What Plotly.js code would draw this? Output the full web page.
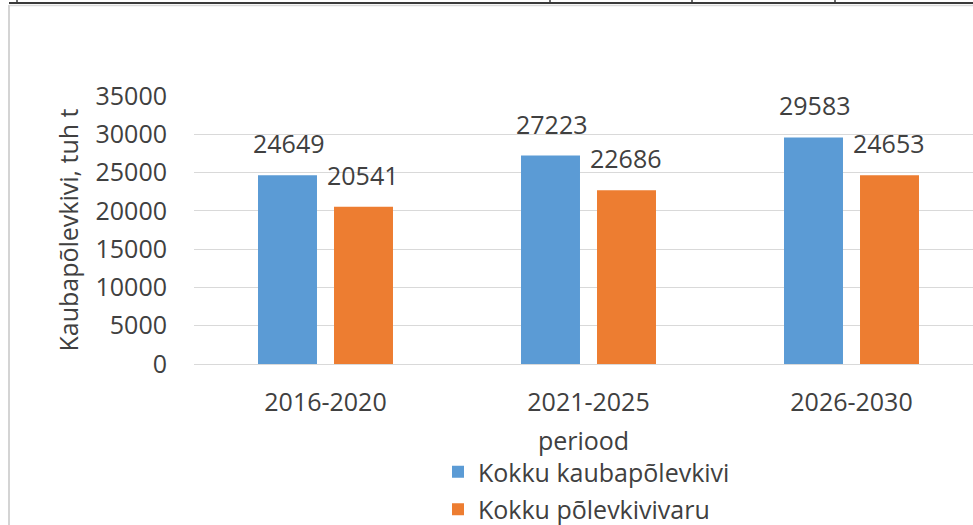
<!DOCTYPE html>
<html>
<head>
<meta charset="utf-8">
<script src="https://cdn.plot.ly/plotly-3.0.1.min.js"></script>
<style>html,body{margin:0;padding:0;background:#fff;}#chart{width:973px;height:525px;}</style>
</head>
<body>
<div id="chart"></div>
<script>
const categories = ["2016-2020", "2021-2025", "2026-2030"];
const seriesNames = ["Kokku kaubapõlevkivi", "Kokku põlevkivivaru"];
const kaubapolevkivi = [24649, 27223, 29583];
const polevkivivaru = [20541, 22686, 24653];
const yTickValues = [0, 5000, 10000, 15000, 20000, 25000, 30000, 35000];
const yTitle = "Kaubapõlevkivi, tuh t";
const xTitle = "periood";

const W = 973, H = 525;
const L = 194, R = 0, T = 96, B = 161;
const pw = W - L - R, ph = H - T - B;
const px2x = p => (p - L) / pw;
const py2y = p => (H - B - p) / ph;

const FONT = "Open Sans, sans-serif";
const TXT = "#404040";
const colors = ["#5B9BD5", "#ED7D31"];

const traces = [
  {type: "bar", name: seriesNames[0], x: categories, y: kaubapolevkivi,
   marker: {color: colors[0], line: {width: 0}}, legendgroup: "a", hoverinfo: "none"},
  {type: "bar", name: seriesNames[1], x: categories, y: polevkivivaru,
   marker: {color: colors[1], line: {width: 0}}, legendgroup: "b", hoverinfo: "none"}
];

const annotations = [];
[kaubapolevkivi, polevkivivaru].forEach((vals, si) => {
  vals.forEach((v, i) => {
    annotations.push({
      x: categories[i], y: v, xref: "x", yref: "y",
      text: String(v), showarrow: false,
      xanchor: "center", yanchor: "bottom",
      xshift: si === 0 ? -37 : 37, yshift: 13,
      font: {family: FONT, size: 25, color: TXT}
    });
  });
});

const line = (x0, y0, x1, y1, color, width) => ({
  type: "line", xref: "paper", yref: "paper",
  x0: px2x(x0), y0: py2y(y0), x1: px2x(x1), y1: py2y(y1),
  line: {color: color, width: width}, layer: "above"
});

const shapes = [
  line(9, 5.5, 973, 5.5, "#d9d9d9", 1.5),
  line(9, 5, 9, 525, "#d4d4d4", 2),
  line(9, 3, 973, 3, "#3a3a3a", 2),
  line(17, 0, 17, 3, "#3a3a3a", 1.5),
  line(550, 0, 550, 3, "#3a3a3a", 1.5),
  line(692, 0, 692, 3, "#3a3a3a", 1.5),
  line(835, 0, 835, 3, "#3a3a3a", 1.5)
];

const layout = {
  width: W, height: H,
  margin: {l: L, r: R, t: T, b: B, pad: 0, autoexpand: false},
  paper_bgcolor: "#ffffff", plot_bgcolor: "#ffffff",
  font: {family: FONT, size: 25, color: TXT},
  barmode: "group", bargap: 0.422, bargroupgap: 0.224,
  showlegend: true,
  legend: {orientation: "v", x: px2x(438), xanchor: "left", y: py2y(449), yanchor: "top",
           bgcolor: "rgba(0,0,0,0)", font: {family: FONT, size: 25, color: TXT},
           tracegroupgap: 2, itemclick: false, itemdoubleclick: false},
  xaxis: {type: "category", range: [-0.5, -0.5 + pw / 263],
          showgrid: false, zeroline: false, showline: false, ticks: "",
          ticklabelstandoff: 21, tickfont: {family: FONT, size: 25, color: TXT},
          title: {text: xTitle, font: {family: FONT, size: 25, color: TXT}, standoff: 15},
          fixedrange: true},
  yaxis: {range: [0, 35000], tickvals: yTickValues, ticktext: yTickValues.map(String),
          showgrid: true, gridcolor: "#d9d9d9", gridwidth: 1,
          zeroline: true, zerolinecolor: "#d9d9d9", zerolinewidth: 1,
          showline: false, ticks: "", ticklabelstandoff: 26,
          tickfont: {family: FONT, size: 25, color: TXT},
          title: {text: yTitle, font: {family: FONT, size: 25, color: TXT}, standoff: 9},
          fixedrange: true},
  annotations: annotations,
  shapes: shapes
};

Plotly.newPlot("chart", traces, layout, {displayModeBar: false, staticPlot: true});
</script>
</body>
</html>
